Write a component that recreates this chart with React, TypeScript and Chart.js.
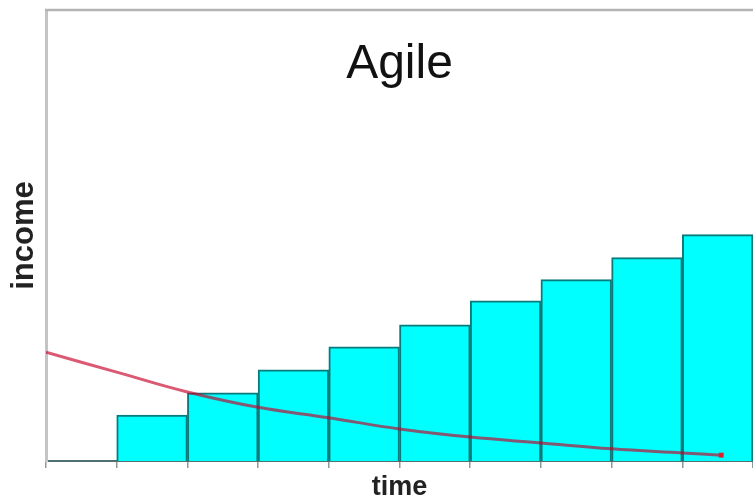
import React, { useEffect, useRef } from "react";
import { Chart, registerables } from "chart.js";

Chart.register(...registerables);

const categories = ["", "", "", "", "", "", "", "", "", ""];
const incomeBars = [null, 10.2, 15.1, 20.2, 25.3, 30.2, 35.5, 40.2, 45.1, 50.2];
const costX = [0, 1, 2, 3, 4, 5, 6, 7, 8, 9, 9.55];
const costY = [24.1, 19.7, 15.3, 11.9, 9.6, 7.1, 5.3, 4.0, 2.7, 1.8, 1.3];
const titleText = "Agile";
const xTitle = "time";
const yTitle = "income";

const FONT = '"Liberation Sans", Arial, sans-serif';

export default function App() {
  const ref = useRef<HTMLCanvasElement | null>(null);
  useEffect(() => {
    if (!ref.current) return;
    const framePlugin = {
      id: "frameAndTitle",
      afterDraw(chart: any) {
        const { ctx, chartArea } = chart;
        ctx.save();
        ctx.strokeStyle = "#b4b4b4";
        ctx.lineWidth = 2.5;
        ctx.beginPath();
        ctx.moveTo(chartArea.left - 1, chartArea.top);
        ctx.lineTo(chartArea.right, chartArea.top);
        ctx.stroke();
        ctx.fillStyle = "#111";
        ctx.font = `48px ${FONT}`;
        ctx.textAlign = "center";
        ctx.textBaseline = "alphabetic";
        ctx.fillText(titleText, (chartArea.left + chartArea.right) / 2, 78);
        ctx.restore();
      },
    };
    const lineRadius = costX.map((_, i) => (i === costX.length - 1 ? 3.5 : 0));
    const chart = new Chart(ref.current, {
      type: "bar",
      data: {
        labels: categories,
        datasets: [
          {
            type: "line" as const,
            label: "cost",
            data: costX.map((x, i) => ({ x, y: costY[i] })),
            xAxisID: "xl",
            yAxisID: "y",
            borderColor: "rgba(200,0,40,0.65)",
            borderWidth: 3,
            tension: 0.4,
            pointRadius: lineRadius,
            pointBackgroundColor: "#e0202a",
            pointBorderWidth: 0,
            pointStyle: "rect",
            order: 1,
          },
          {
            type: "bar" as const,
            label: "income",
            data: incomeBars,
            backgroundColor: "#00ffff",
            borderColor: "#0b7a7b",
            borderWidth: 2,
            barPercentage: 1,
            categoryPercentage: 1,
            grouped: false,
            order: 2,
          },
        ],
      } as any,
      options: {
        animation: false,
        responsive: true,
        maintainAspectRatio: false,
        layout: { autoPadding: false, padding: { top: 10, left: 0, right: 0, bottom: 0 } },
        plugins: {
          legend: { display: false },
          tooltip: { enabled: false },
          title: { display: false },
        },
        scales: {
          x: {
            type: "category",
            offset: true,
            grid: {
              display: true,
              offset: true,
              drawOnChartArea: false,
              drawTicks: true,
              tickLength: 7,
              color: "#8a9a9a",
              lineWidth: 1.5,
            },
            border: { display: true, color: "#4f6f70", width: 2 },
            ticks: { display: false },
            title: {
              display: true,
              text: xTitle,
              color: "#222",
              font: { size: 27, family: FONT, weight: "bold" },
              padding: { top: 0, bottom: -5 },
            },
            afterFit(s: any) {
              s.height = 38;
            },
          },
          xl: {
            type: "linear",
            display: false,
            offset: false,
            grid: { offset: false },
            min: 0,
            max: 10,
          },
          y: {
            type: "linear",
            min: 0,
            max: 100,
            grid: { display: false },
            border: { display: true, color: "#c4c4c4", width: 3 },
            ticks: { display: false },
            title: {
              display: true,
              text: yTitle,
              color: "#222",
              font: { size: 31, family: FONT, weight: "bold" },
              padding: { top: 6, bottom: 0 },
            },
            afterFit(s: any) {
              s.width = 46;
            },
          },
        },
      } as any,
      plugins: [framePlugin],
    });
    return () => chart.destroy();
  }, []);
  return (
    <div style={{ position: "absolute", left: 0, top: 0, width: 753, height: 499, background: "#fff" }}>
      <canvas ref={ref} />
    </div>
  );
}
